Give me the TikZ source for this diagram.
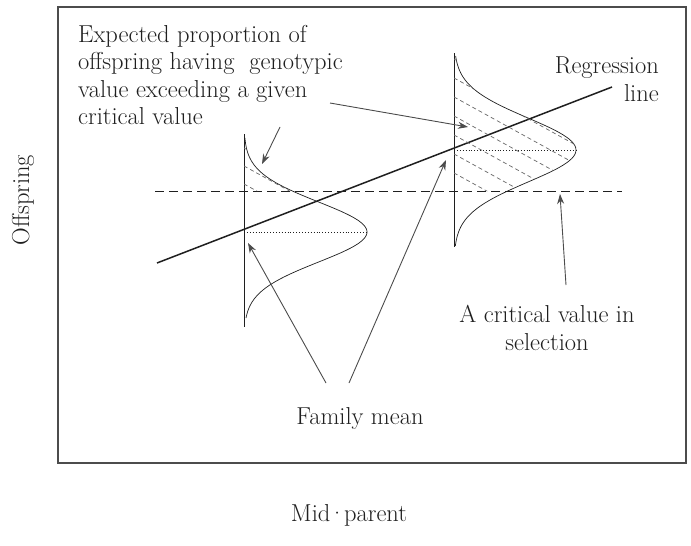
\documentclass[tikz,border=0pt]{standalone}
\usetikzlibrary{arrows.meta}
\definecolor{ink}{gray}{0.12}
\definecolor{arrowgray}{gray}{0.3}
\definecolor{framegray}{gray}{0.3}
\definecolor{hatchgray}{gray}{0.4}

\begin{document}
\begin{tikzpicture}[
  x=1pt, y=-1pt,
  lbl/.style={font=\fontsize{24.5}{27.5}\selectfont,inner sep=0pt,text=ink},
  famcurve/.style={ink,line width=0.7pt},
  hatchline/.style={hatchgray,line width=0.7pt,dash pattern=on 4pt off 3pt},
  ptr/.style={arrowgray,line width=0.9pt,-{Stealth[length=10pt,width=7pt]}},
]
  \useasboundingbox (0,0) rectangle (691,546);

  % Frame
  \draw[framegray,line width=2.4pt] (58,7) rectangle (686,463);

  % Axis labels
  \node[lbl,rotate=90] (offspring) at (23,200) {Offspring};
  \node[lbl] (midparent) at (349,515) {Mid\kern-2pt\textperiodcentered\kern-2pt parent};

  % Critical value + regression line
  \coordinate (cstart) at (155,191);
  \coordinate (cend) at (622,191);
  \draw[ink,line width=0.8pt,dash pattern=on 9pt off 5pt] (cstart) -- (cend);
  \coordinate (rstart) at (157,263);
  \coordinate (rend) at (612,87);
  \draw[ink,line width=1.5pt] (rstart) -- (rend);

  % Left family
  \draw[famcurve] (244,134) -- (244,327);
  \draw[famcurve] plot[domain=138:318,samples=90,smooth] ({244+123*exp(-((\x-232)/30)^2/2)},\x);
  \draw[ink,dotted,line width=0.9pt] (244,232) -- (367,232);
  \begin{scope}
    \clip (244,134) -- plot[domain=138:191,samples=40] ({244+123*exp(-((\x-232)/30)^2/2)},\x) -- (244,191) -- cycle;
    \foreach \k in {130,148,...,190}
      \draw[hatchline] (244,\k) -- ++(120,66);
  \end{scope}

  % Right family
  \draw[famcurve] (454,53) -- (454,247);
  \draw[famcurve] plot[domain=56:246,samples=90,smooth] ({454+122*exp(-((\x-150)/32)^2/2)},\x);
  \draw[ink,dotted,line width=0.9pt] (454,150) -- (576,150);
  \begin{scope}
    \clip (454,53) -- plot[domain=56:191,samples=40] ({454+122*exp(-((\x-150)/32)^2/2)},\x) -- (454,191) -- cycle;
    \foreach \k in {40,59,...,192}
      \draw[hatchline] (454,\k) -- ++(200,110);
  \end{scope}

  % Labels
  \node[lbl,align=left,anchor=north west] (expect) at (78,25)
    {Expected proportion of\\offspring having\ \ genotypic\\value exceeding a given\\critical value};
  \node[lbl,align=right,anchor=north east] (regr) at (659,57) {Regression\\line};
  \node[lbl,align=center] (crit) at (547,328) {A critical value in\\selection};
  \node[lbl] (fammean) at (360,418) {Family mean};

  % Pointers
  \coordinate (etail1) at (280,127);
  \coordinate (etail2) at (330,103);
  \coordinate (lhatch) at (262,164);
  \coordinate (rhatch) at (468,127);
  \draw[ptr] (etail1) -- (lhatch);
  \draw[ptr] (etail2) -- (rhatch);

  \coordinate (ftail1) at (326,383);
  \coordinate (ftail2) at (349,383);
  \coordinate (lmean) at (248,243);
  \coordinate (rmean) at (446,160);
  \draw[ptr] (ftail1) -- (lmean);
  \draw[ptr] (ftail2) -- (rmean);

  \coordinate (ctail) at (566,285);
  \coordinate (cmark) at (560,194);
  \draw[ptr] (ctail) -- (cmark);
\end{tikzpicture}
\end{document}
